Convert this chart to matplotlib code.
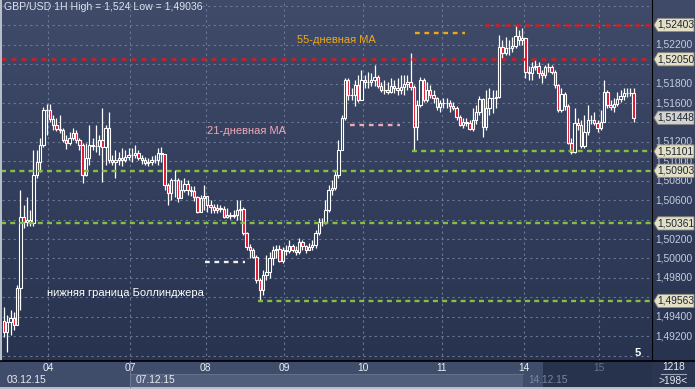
import matplotlib
matplotlib.use('Agg')
import matplotlib.pyplot as plt
import numpy as np
from matplotlib.patches import Rectangle, Polygon
from matplotlib.colors import LinearSegmentedColormap
import matplotlib.transforms as mtransforms

plt.rcParams['font.family'] = ['Liberation Sans', 'DejaVu Sans']

# GBP/USD 1H candles (03.12.15 - 15.12.15)
first_open = 1.49357
closes = [
    1.49244, 1.49347, 1.49388, 1.49318, 1.49696, 1.50427, 1.50376, 1.50396, 1.50365, 1.50860,
    1.50993, 1.51168, 1.51528, 1.51528, 1.51436, 1.51374, 1.51333, 1.51323, 1.51220, 1.51189,
    1.51240, 1.51292, 1.51220, 1.51168, 1.50860, 1.51034, 1.51168, 1.51157, 1.51157, 1.51220,
    1.51147, 1.51343, 1.51014, 1.50993, 1.51014, 1.51034, 1.51014, 1.51045, 1.51065, 1.51065,
    1.51086, 1.51034, 1.51014, 1.50983, 1.50993, 1.51014, 1.51014, 1.51086, 1.51075, 1.50756,
    1.50674, 1.50808, 1.50808, 1.50622, 1.50705, 1.50767, 1.50705, 1.50695, 1.50632, 1.50478,
    1.50622, 1.50643, 1.50550, 1.50530, 1.50499, 1.50520, 1.50509, 1.50427, 1.50448, 1.50437,
    1.50448, 1.50499, 1.50509, 1.50262, 1.50118, 1.50088, 1.50015, 1.49778, 1.49676, 1.49830,
    1.49861, 1.50005, 1.50088, 1.50098, 1.49974, 1.50088, 1.50077, 1.50129, 1.50088, 1.50067,
    1.50170, 1.50129, 1.50088, 1.50118, 1.50139, 1.50262, 1.50376, 1.50376, 1.50499, 1.50705,
    1.50725, 1.50860, 1.51117, 1.51446, 1.51837, 1.51682, 1.51682, 1.51785, 1.51631, 1.51837,
    1.51816, 1.51816, 1.51837, 1.51868, 1.51775, 1.51734, 1.51734, 1.51713, 1.51775, 1.51754,
    1.51734, 1.51765, 1.51796, 1.51816, 1.51765, 1.51353, 1.51580, 1.51837, 1.51631, 1.51734,
    1.51682, 1.51652, 1.51559, 1.51600, 1.51600, 1.51600, 1.51569, 1.51549, 1.51456, 1.51374,
    1.51404, 1.51394, 1.51333, 1.51425, 1.51508, 1.51641, 1.51353, 1.51549, 1.51652, 1.51652,
    1.51662, 1.52176, 1.52115, 1.52166, 1.52166, 1.52187, 1.52290, 1.52248, 1.52269, 1.51919,
    1.51909, 1.51971, 1.51981, 1.51909, 1.51888, 1.51971, 1.51971, 1.51919, 1.51785, 1.51528,
    1.51693, 1.51569, 1.51189, 1.51096, 1.51394, 1.51374, 1.51157, 1.51302, 1.51425, 1.51425,
    1.51394, 1.51343, 1.51404, 1.51713, 1.51580, 1.51559, 1.51590, 1.51641, 1.51672, 1.51703,
    1.51703, 1.51703, 1.51448,
]
highs = [
    1.49501, 1.49419, 1.49470, 1.49450, 1.49727, 1.50705, 1.50550, 1.50632, 1.50499, 1.51117,
    1.51117, 1.51240, 1.51559, 1.51590, 1.51590, 1.51477, 1.51446, 1.51477, 1.51343, 1.51271,
    1.51302, 1.51343, 1.51323, 1.51240, 1.51189, 1.51189, 1.51374, 1.51240, 1.51374, 1.51271,
    1.51549, 1.51374, 1.51508, 1.51065, 1.51117, 1.51096, 1.51137, 1.51117, 1.51137, 1.51137,
    1.51168, 1.51117, 1.51065, 1.51045, 1.51034, 1.51055, 1.51065, 1.51137, 1.51147, 1.51034,
    1.50777, 1.50828, 1.50911, 1.50828, 1.50808, 1.50828, 1.50808, 1.50746, 1.50746, 1.50643,
    1.50653, 1.50756, 1.50622, 1.50602, 1.50561, 1.50561, 1.50550, 1.50540, 1.50520, 1.50478,
    1.50499, 1.50602, 1.50602, 1.50530, 1.50273, 1.50149, 1.50108, 1.50036, 1.49799, 1.49882,
    1.50036, 1.50067, 1.50129, 1.50139, 1.50139, 1.50118, 1.50139, 1.50190, 1.50149, 1.50129,
    1.50211, 1.50190, 1.50139, 1.50160, 1.50190, 1.50293, 1.50417, 1.50417, 1.50602, 1.50756,
    1.50808, 1.50911, 1.51220, 1.51477, 1.51857, 1.51857, 1.51754, 1.51837, 1.51888, 1.51940,
    1.51888, 1.51919, 1.51909, 1.51991, 1.51888, 1.51816, 1.51837, 1.51816, 1.51857, 1.51837,
    1.51857, 1.51888, 1.51888, 1.51888, 1.52115, 1.51785, 1.51631, 1.51868, 1.51857, 1.51816,
    1.51785, 1.51734, 1.51662, 1.51631, 1.51652, 1.51652, 1.51631, 1.51610, 1.51569, 1.51477,
    1.51446, 1.51446, 1.51425, 1.51549, 1.51580, 1.51672, 1.51652, 1.51734, 1.51754, 1.51734,
    1.51734, 1.52300, 1.52248, 1.52279, 1.52248, 1.52279, 1.52403, 1.52351, 1.52372, 1.52269,
    1.51981, 1.52022, 1.52043, 1.52022, 1.51940, 1.51991, 1.52012, 1.51991, 1.51940, 1.51796,
    1.51754, 1.51713, 1.51590, 1.51240, 1.51549, 1.51446, 1.51425, 1.51477, 1.51580, 1.51477,
    1.51508, 1.51425, 1.51528, 1.51837, 1.51734, 1.51631, 1.51652, 1.51713, 1.51734, 1.51754,
    1.51754, 1.51754, 1.51754,
]
lows = [
    1.49192, 1.49036, 1.49213, 1.49265, 1.49318, 1.49470, 1.50314, 1.50335, 1.50335, 1.50335,
    1.50828, 1.50890, 1.51147, 1.51271, 1.51404, 1.51323, 1.51312, 1.51292, 1.51199, 1.51127,
    1.51168, 1.51220, 1.51189, 1.51117, 1.50777, 1.50849, 1.50962, 1.51117, 1.51096, 1.51065,
    1.50787, 1.50962, 1.50983, 1.50962, 1.50828, 1.50962, 1.50952, 1.50993, 1.51014, 1.50993,
    1.51034, 1.51014, 1.50972, 1.50962, 1.50952, 1.50962, 1.50983, 1.50962, 1.50993, 1.50705,
    1.50550, 1.50602, 1.50632, 1.50581, 1.50632, 1.50684, 1.50653, 1.50643, 1.50592, 1.50468,
    1.50478, 1.50499, 1.50478, 1.50468, 1.50468, 1.50468, 1.50478, 1.50417, 1.50417, 1.50406,
    1.50417, 1.50396, 1.50396, 1.50242, 1.50088, 1.50005, 1.50005, 1.49748, 1.49563, 1.49624,
    1.49778, 1.49799, 1.49932, 1.50005, 1.49964, 1.49954, 1.50036, 1.50057, 1.50067, 1.50036,
    1.50046, 1.50088, 1.50057, 1.50088, 1.50088, 1.50108, 1.50242, 1.50335, 1.50355, 1.50478,
    1.50653, 1.50705, 1.50828, 1.51117, 1.51425, 1.51631, 1.51631, 1.51569, 1.51610, 1.51631,
    1.51754, 1.51754, 1.51775, 1.51775, 1.51754, 1.51713, 1.51693, 1.51693, 1.51703, 1.51703,
    1.51682, 1.51693, 1.51682, 1.51734, 1.51734, 1.51101, 1.51220, 1.51559, 1.51610, 1.51610,
    1.51652, 1.51600, 1.51528, 1.51508, 1.51549, 1.51549, 1.51508, 1.51528, 1.51425, 1.51363,
    1.51343, 1.51363, 1.51323, 1.51312, 1.51384, 1.51477, 1.51250, 1.51323, 1.51477, 1.51497,
    1.51549, 1.51652, 1.52063, 1.52094, 1.52094, 1.52125, 1.52166, 1.52197, 1.52197, 1.51857,
    1.51837, 1.51837, 1.51940, 1.51857, 1.51806, 1.51857, 1.51919, 1.51899, 1.51754, 1.51508,
    1.51508, 1.51528, 1.51178, 1.51075, 1.51086, 1.51323, 1.51137, 1.51137, 1.51271, 1.51384,
    1.51374, 1.51302, 1.51323, 1.51404, 1.51549, 1.51528, 1.51508, 1.51569, 1.51610, 1.51631,
    1.51662, 1.51672, 1.51404,
]

# session boundaries (candle index) and labels
day_pos = [13.5, 38.5, 61.5, 85.5, 109.5, 133.5, 158.5, 181.5]
day_labels = ['04', '07', '08', '09', '10', '11', '14', '15']
week_pos = [-0.6, 38.5, 158.5]
week_labels = ['03.12.15', '07.12.15', '14.12.15']

price_ticks = [1.492, 1.494, 1.496, 1.498, 1.500, 1.502, 1.504, 1.506, 1.508,
               1.510, 1.512, 1.514, 1.516, 1.518, 1.520, 1.522]
# labels that sit almost fully under a price tag
hidden_ticks = [1.496, 1.504, 1.514, 1.520]

# support / resistance levels: (price, start index)
red_levels = [(1.52403, 146.6), (1.52050, -1)]
green_levels = [(1.51101, 124.4), (1.50903, -1), (1.50361, -1), (1.49563, 77.4)]
tag_prices = [1.52403, 1.52050, 1.51448, 1.51101, 1.50903, 1.50361, 1.49563]
last_price = 1.51448

W, H = 695, 389
fig = plt.figure(figsize=(W / 100, H / 100), dpi=100)
fig.patch.set_facecolor('#b8bec8')

def fr(x0, y0, x1, y1):
    # pixel box (top-left origin) -> figure fraction rect
    return [x0 / W, 1 - y1 / H, (x1 - x0) / W, (y1 - y0) / H]

ax = fig.add_axes(fr(2, 0, 652, 361))
axr = fig.add_axes(fr(652, 0, 695, 361))
XMIN, XMAX = -0.6, 197.6
YMIN, YMAX = 1.48945, 1.52660

grad = LinearSegmentedColormap.from_list('bg', ['#283350', '#3f4b69'])
g = np.linspace(0, 1, 256).reshape(-1, 1)
for a in (ax, axr):
    a.imshow(g, extent=[0, 1, 0, 1], transform=a.transAxes, aspect='auto',
             cmap=grad, origin='lower', zorder=0)
    a.set_ylim(YMIN, YMAX)
    for s in a.spines.values():
        s.set_visible(False)
    a.set_xticks([])
    a.set_yticks([])

ax.set_xlim(XMIN, XMAX)
axr.set_xlim(0, 43)

# grid
grid_kw = dict(color='#6a7896', lw=0.8, linestyle=(0, (2, 3)), zorder=1)
for p in price_ticks + [1.490, 1.524, 1.526]:
    ax.axhline(p, **grid_kw)
for d in day_pos:
    ax.axvline(d, **grid_kw)

# candles
opens = [first_open] + closes[:-1]
idx = np.arange(len(closes))
for i, o, h, l, c in zip(idx, opens, highs, lows, closes):
    h = max(h, o, c)
    l = min(l, o, c)
    ax.plot([i, i], [l, h], color='white', lw=0.9, zorder=3, solid_capstyle='butt')
    bot = min(o, c)
    ht = max(abs(c - o), 0.00004)
    fc = '#e0102a' if c < o else '#2f3b59'
    ax.add_patch(Rectangle((i - 0.36, bot), 0.72, ht, facecolor=fc,
                           edgecolor='white', lw=0.8, zorder=4))

# level lines
for p, x0 in red_levels:
    ax.plot([x0, XMAX], [p, p], color='#d41c22', lw=1.8,
            linestyle=(0, (2.0, 2.0)), zorder=5)
for p, x0 in green_levels:
    ax.plot([x0, XMAX], [p, p], color='#86c040', lw=1.7,
            linestyle=(0, (2.1, 1.8)), zorder=5)

# annotations
ax.plot([125.3, 140.5], [1.52321, 1.52321], color='#f0a818', lw=1.7,
        linestyle=(0, (2.0, 2.0)), zorder=5)
ax.text(89.3, 1.52249, '55-дневная MA', color='#f0a818', fontsize=8,
        va='center', ha='left', zorder=6)
ax.plot([105.5, 120.7], [1.51374, 1.51374], color='#f0a8b4', lw=1.7,
        linestyle=(0, (2.0, 2.0)), zorder=5)
ax.text(61.9, 1.51312, '21-дневная MA', color='#f0a8b4', fontsize=8,
        va='center', ha='left', zorder=6)
ax.plot([61.3, 73.5], [1.49964, 1.49964], color='#f0f0f0', lw=1.7,
        linestyle=(0, (2.0, 2.0)), zorder=5)
ax.text(13.1, 1.49645, 'нижняя граница Боллинджера', color='white', fontsize=8,
        va='center', ha='left', zorder=6)

ax.text(0.003, 0.995, 'GBP/USD 1H High = 1,524 Low = 1,49036', transform=ax.transAxes,
        color='#dde2ec', fontsize=7.6, va='top', ha='left', zorder=7)
ax.text(0.983, 0.008, '5', transform=ax.transAxes, color='white', fontsize=8,
        fontweight='bold', va='bottom', ha='right', zorder=7)

# right price axis
axr.axvline(0, color='black', lw=1.5, zorder=2)
for p in price_ticks:
    if p in hidden_ticks:
        continue
    axr.text(22, p, ('%.5f' % p).replace('.', ','), color='#c4ccdc', fontsize=7.4,
             ha='center', va='center', zorder=3)
th = 0.00068
for p in tag_prices:
    fc = '#d2d2ce' if p == last_price else '#e4e0c6'
    pts = [(2, p), (6, p + th), (42, p + th), (42, p - th), (6, p - th)]
    axr.add_patch(Polygon(pts, closed=True, facecolor=fc, edgecolor='#8a8a80',
                          lw=0.6, zorder=4))
    axr.text(23.5, p, ('%.5f' % p).replace('.', ','), color='#1e2536', fontsize=7.4,
             ha='center', va='center', zorder=5)

# bottom date strip
def band(x0, y0, x1, y1, color):
    fig.patches.append(Rectangle((x0 / W, 1 - y1 / H), (x1 - x0) / W, (y1 - y0) / H,
                                 transform=fig.transFigure, facecolor=color,
                                 edgecolor='none', zorder=1))

band(0, 361, 652, 387, '#3f4c6a')
band(130, 374, 523, 387, '#505e7c')
band(543, 361, 652, 387, '#27324c')
band(652, 361, 695, 387, '#2a3550')
fig.add_artist(plt.Line2D([0, 1], [1 - 361 / H] * 2, transform=fig.transFigure,
                          color='black', lw=1.2, zorder=3))
fig.add_artist(plt.Line2D([130 / W, 523 / W], [1 - 374 / H] * 2, transform=fig.transFigure,
                          color='#62708c', lw=0.8, zorder=3))
fig.add_artist(plt.Line2D([130 / W, 130 / W], [1 - 387 / H, 1 - 361 / H],
                          transform=fig.transFigure, color='#6a7896', lw=0.8, zorder=3))

tb = mtransforms.blended_transform_factory(ax.transData, fig.transFigure)
for d, lab in zip(day_pos, day_labels):
    col = '#66728e' if lab == '15' else '#e8ecf4'
    fig.text(d, 1 - 368 / H, lab, transform=tb, color=col, fontsize=7.4,
             ha='center', va='center', zorder=4)
for d, lab in zip(week_pos, week_labels):
    col = '#7a86a0' if lab == '14.12.15' else '#e8ecf4'
    fig.text(d + 1.5, 1 - 380 / H, lab, transform=tb, color=col, fontsize=7.4,
             ha='left', va='center', zorder=4)

fig.text(673.5 / W, 1 - 367.5 / H, '1218', color='#e8ecf4', fontsize=7.4,
         ha='center', va='center', zorder=4)
fig.add_artist(plt.Line2D([661 / W, 686 / W], [1 - 374 / H] * 2, transform=fig.transFigure,
                          color='#9aa4b8', lw=0.8, zorder=4))
fig.text(673.5 / W, 1 - 380.5 / H, '>198<', color='#e8ecf4', fontsize=7.4,
         ha='center', va='center', zorder=4)

fig.savefig('out.png', dpi=100, facecolor=fig.get_facecolor())
